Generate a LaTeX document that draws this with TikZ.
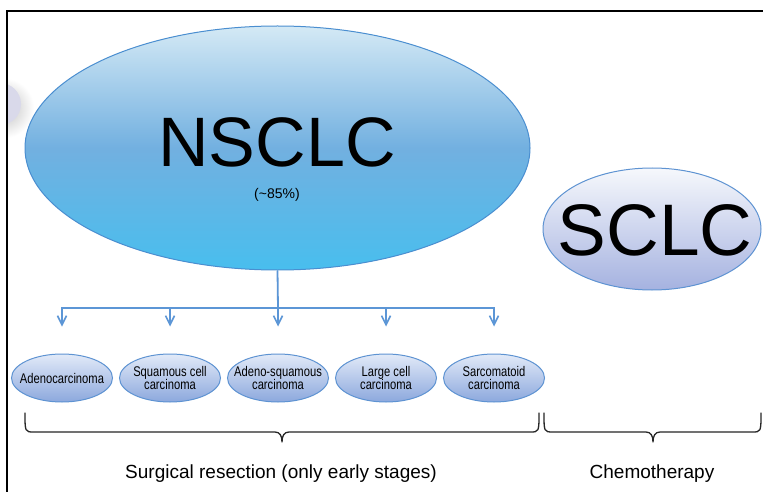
\documentclass[tikz,border=0pt]{standalone}
\usepackage{fontspec}
\setmainfont{Liberation Sans}
\newfontfamily\narrowfont[FakeStretch=0.8]{Liberation Sans}
\usetikzlibrary{shapes.geometric,arrows.meta}
\definecolor{bigtop}{HTML}{D4E9F5}
\definecolor{bigmid}{HTML}{72B0E0}
\definecolor{bigbot}{HTML}{48BEEE}
\definecolor{bigedge}{HTML}{4A8ED0}
\definecolor{stop}{HTML}{F6F8FC}
\definecolor{sbot}{HTML}{A5B2E0}
\definecolor{smtop}{HTML}{E2EAF8}
\definecolor{smbot}{HTML}{8CA8DD}
\definecolor{smedge}{HTML}{5E93D2}
\definecolor{conn}{HTML}{5C96D6}
\definecolor{blob}{HTML}{D9D9EA}
\tikzset{
  bigell/.style={ellipse, draw=bigedge, line width=1pt, inner sep=0pt,
    top color=bigtop, bottom color=bigbot, middle color=bigmid},
  sclcell/.style={ellipse, draw=smedge, line width=1pt, inner sep=0pt,
    top color=stop, bottom color=sbot},
  smell/.style={ellipse, draw=smedge, line width=1pt, inner sep=0pt,
    minimum width=101pt, minimum height=48pt,
    top color=smtop, bottom color=smbot},
  smtext/.style={inner sep=0pt, font=\narrowfont\fontsize{14}{13.5}\selectfont, align=center},
  connline/.style={draw=conn, line width=1.8pt},
  arr/.style={connline, -{Straight Barb[length=9pt,width=9pt,line width=1.6pt]}},
  bracestyle/.style={draw=black!85, line width=1.3pt, line cap=round, line join=round},
  bottomlabel/.style={font=\fontsize{19}{20}\selectfont, anchor=base, inner sep=0pt}
}
\newcommand\mybrace[3]{%
  \draw[bracestyle] (#1,413) .. controls (#1,432) and (#1,432) .. ({#1+9},432)
    -- ({#2-7},432) .. controls ({#2-2},432) and (#2,436) .. (#2,442)
    .. controls (#2,436) and ({#2+2},432) .. ({#2+7},432)
    -- ({#3-9},432) .. controls (#3,432) and (#3,432) .. (#3,413);}
\begin{document}
\begin{tikzpicture}[x=1pt,y=-1pt]
\useasboundingbox (0,0) rectangle (763,492);
\fill[white] (0,0) rectangle (763,492);
% faint blob at the left edge
\begin{scope}
  \clip (7,0) rectangle (80,200);
  \shade[inner color=black!25, outer color=white] (4,108) circle (30);
  \fill[blob] (0,104) circle (21);
\end{scope}
% frame
\draw[line width=1.5pt] (7,492) -- (7,11) -- (763,11);
% main ellipses
\node[bigell, minimum width=505pt, minimum height=244pt] (nsclc) at (277.5,148) {};
\node[anchor=base, inner sep=0pt, font=\fontsize{70}{70}\selectfont] (nsclctxt) at (277,167) {NSCLC};
\node[anchor=base, inner sep=0pt, font=\fontsize{14}{14}\selectfont] (pct) at (277,198) {({\char"7E}85\%)};
\node[sclcell, minimum width=218pt, minimum height=122pt] (sclc) at (652,229) {};
\node[anchor=base, inner sep=0pt, font=\fontsize{73}{73}\selectfont] (sclctxt) at (655,255) {SCLC};
% small ellipses
\node[smell] (adeno) at (62,378) {};
\node[smell] (squam) at (170,378) {};
\node[smell] (adsq) at (278,378) {};
\node[smell] (large) at (386,378) {};
\node[smell] (sarc) at (494,378) {};
\node[smtext] (adenot) at (adeno) {Adenocarcinoma};
\node[smtext] (squamt) at (squam) {Squamous cell\\carcinoma};
\node[smtext] (adsqt) at (adsq) {Adeno-squamous\\carcinoma};
\node[smtext] (larget) at (large) {Large cell\\carcinoma};
\node[smtext] (sarct) at (sarc) {Sarcomatoid\\carcinoma};
% connectors
\coordinate (h1) at (62,308);
\coordinate (h2) at (170,308);
\coordinate (h3) at (278,308);
\coordinate (h4) at (386,308);
\coordinate (h5) at (494,308);
\draw[connline] (nsclc.south) -- (h3);
\draw[connline, line cap=rect] (h1) -- (h5);
\draw[arr, shorten >=27pt] (h1) -- (adeno.north);
\draw[arr, shorten >=27pt] (h2) -- (squam.north);
\draw[arr, shorten >=27pt] (h3) -- (adsq.north);
\draw[arr, shorten >=27pt] (h4) -- (large.north);
\draw[arr, shorten >=27pt] (h5) -- (sarc.north);
% braces
\mybrace{25}{282}{539}
\mybrace{544}{653}{761}
% labels
\node[bottomlabel] (surg) at (281,478) {Surgical resection (only early stages)};
\node[bottomlabel] (chemo) at (652,478) {Chemotherapy};
\end{tikzpicture}
\end{document}
